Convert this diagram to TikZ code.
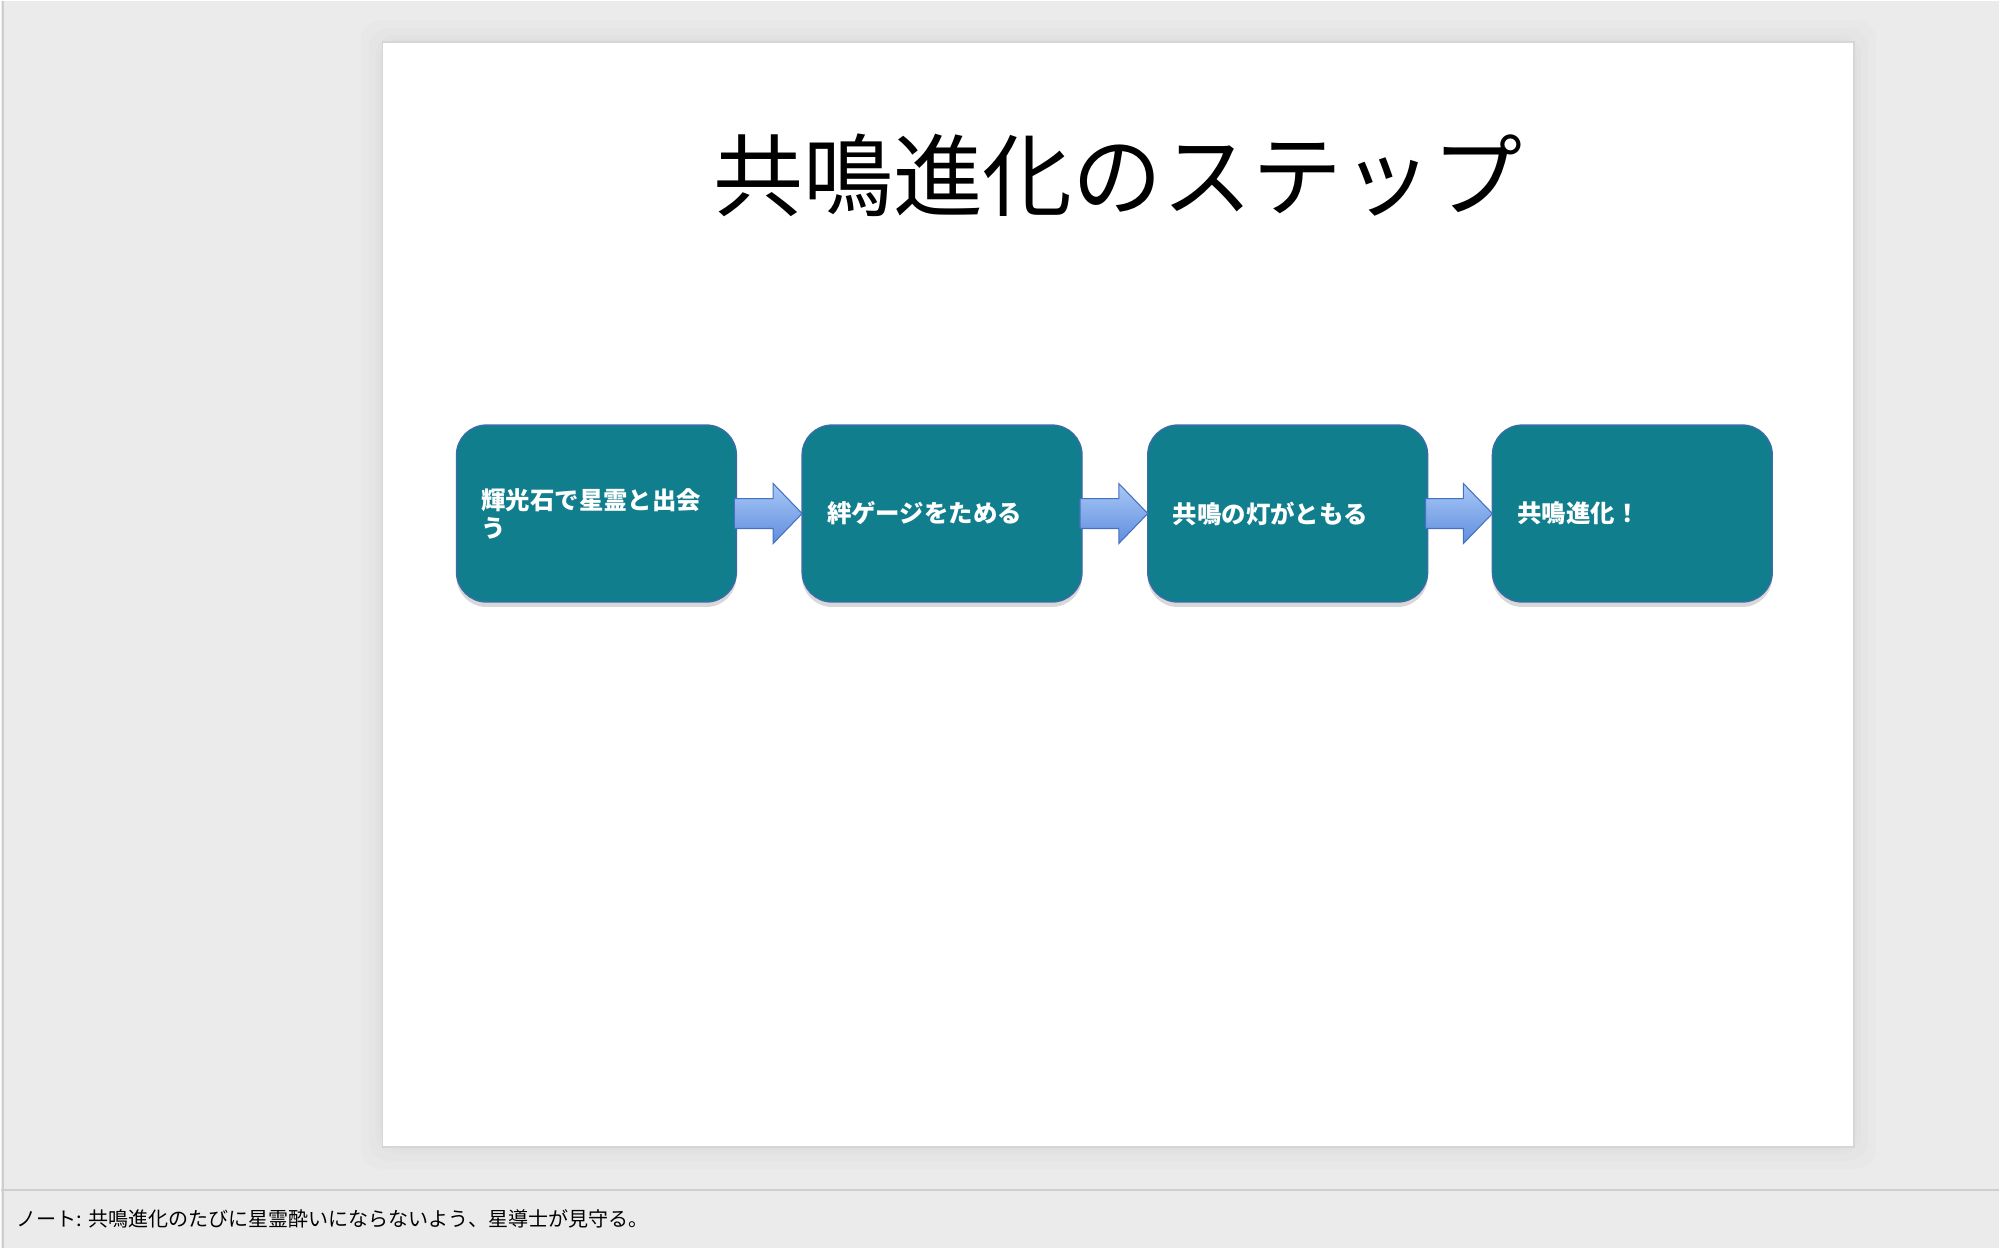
\documentclass[tikz,border=0pt]{standalone}
\usepackage{fontspec}
\newfontfamily\jpfont{Noto Sans CJK JP}
\usetikzlibrary{calc, shadows}

\definecolor{stepteal}{RGB}{16,126,141}
\definecolor{stepedge}{RGB}{58,108,168}
\definecolor{arrowtop}{RGB}{168,200,246}
\definecolor{arrowbot}{RGB}{96,142,222}
\definecolor{arrowedge}{RGB}{70,112,194}
\definecolor{uigray}{RGB}{235,235,235}
\definecolor{uiline}{RGB}{206,206,206}
\definecolor{slideedge}{RGB}{214,214,214}

\begin{document}
\begin{tikzpicture}[x=0.01cm, y=-0.01cm,
  stepbox/.style={draw=stepedge, fill=stepteal, rounded corners=0.3cm,
                  minimum width=2.8cm, minimum height=1.77cm, text width=2.3cm,
                  align=left, inner sep=0pt, outer sep=0pt, text=white,
                  font=\jpfont\bfseries\fontsize{6.95}{8}\selectfont,
                  drop shadow={shadow xshift=0cm, shadow yshift=-0.05cm, opacity=0.3}},
  blockarr/.style={draw=arrowedge, top color=arrowtop, bottom color=arrowbot, line width=0.3pt}
]
  % window background, slide and notes bar
  \fill[uigray] (0,0) rectangle (2000,1248);
  \foreach \d in {22, 14, 7, 3}
    \fill[black, opacity=0.012, rounded corners=0.2cm] (382-\d,41-\d) rectangle (1855+\d,1147+\d);
  \draw[slideedge, fill=white] (382,41) rectangle (1855,1147);
  \draw[uiline, line width=0.6pt] (0,1190) -- (2000,1190);
  \draw[uiline, line width=0.6pt] (2,0) -- (2,1248);

  \node[font=\jpfont\fontsize{25.6}{30}\selectfont] (title) at (1118,174) {共鳴進化のステップ};

  % steps
  \node[stepbox] (s1) at (596,513)  {輝光石で星霊と出会\\う};
  \node[stepbox] (s2) at (942,513)  {絆ゲージをためる};
  \node[stepbox] (s3) at (1288,513) {共鳴の灯がともる};
  \node[stepbox] (s4) at (1633,513) {共鳴進化！};

  \foreach \a/\b in {s1/s2, s2/s3, s3/s4}
    \draw[blockarr] ($(\a.east)+(-2,-15)$) -- ($(\b.west)+(-29,-15)$) -- ($(\b.west)+(-29,-30)$)
      -- (\b.west) -- ($(\b.west)+(-29,30)$) -- ($(\b.west)+(-29,15)$) -- ($(\a.east)+(-2,15)$) -- cycle;

  \node[anchor=west, inner sep=0pt, font=\jpfont\fontsize{5.7}{6.5}\selectfont] (note) at (15,1219)
    {ノート: 共鳴進化のたびに星霊酔いにならないよう、星導士が見守る。};
\end{tikzpicture}
\end{document}
